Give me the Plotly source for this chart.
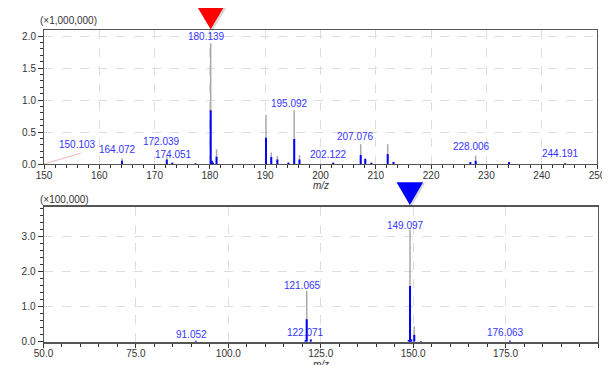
import plotly.graph_objects as go

# ---------------- data ----------------
# MS1 spectrum (intensity x 1,000,000)
ms1_mz = [164.1, 172.2, 173.2, 177.4, 180.14, 180.35, 180.55, 181.2, 190.14, 191.1,
          192.2, 194.2, 195.25, 196.2, 202.3, 207.27, 208.1, 209.2, 212.15, 213.2,
          227.1, 228.06, 234.1, 244.2]
ms1_total = [0.09, 0.12, 0.02, 0.01, 1.886, 0.05, 0.02, 0.23, 0.766, 0.18,
             0.125, 0.03, 0.84, 0.14, 0.02, 0.31, 0.09, 0.02, 0.31, 0.04,
             0.03, 0.13, 0.03, 0.01]
ms1_part = [0.05, 0.07, 0.02, 0.01, 0.84, 0.05, 0.02, 0.114, 0.41, 0.11,
            0.07, 0.02, 0.39, 0.07, 0.02, 0.14, 0.08, 0.02, 0.155, 0.03,
            0.03, 0.05, 0.03, 0.01]
ms1_labels = ["150.103", "164.072", "172.039", "174.051", "180.139", "195.092",
              "202.122", "207.076", "228.006", "244.191"]
ms1_label_x = [156.0, 164.072, 172.039, 174.051, 180.139, 195.092,
               202.122, 207.076, 228.006, 244.191]
ms1_label_y = [0.30, 0.23, 0.35, 0.15, 2.0, 0.95, 0.15, 0.43, 0.27, 0.16]
ms1_precursor = 180.139

# MS2 spectrum (intensity x 100,000)
ms2_mz = [91.2, 120.9, 121.2, 122.3, 148.8, 149.15, 149.5, 150.3, 152.1, 176.2]
ms2_total = [0.02, 0.05, 1.45, 0.06, 0.05, 3.19, 0.06, 0.44, 0.02, 0.03]
ms2_part = [0.03, 0.05, 0.64, 0.06, 0.05, 1.58, 0.06, 0.19, 0.02, 0.03]
ms2_labels = ["91.052", "121.065", "122.071", "149.097", "176.063"]
ms2_label_y = [0.21, 1.61, 0.27, 3.29, 0.27]
ms2_precursor = 149.097

ms1_xticks = [150, 160, 170, 180, 190, 200, 210, 220, 230, 240, 250]
ms2_xticks = [50.0, 75.0, 100.0, 125.0, 150.0, 175.0, 200.0]

# The page body has an 8px margin; work in screen pixels and convert.
OFF = 8
W, H = 610 - OFF, 365 - OFF
FONT = "Liberation Sans"
GRAY = "#a9a9a9"
BLUE = "#0000ff"
LBL = "#3434ff"


def px(xs):
    return (xs - OFF) / W


def py(ys):
    return 1 - (ys - OFF) / H


def sticks(xs, ys):
    sx, sy = [], []
    for x, y in zip(xs, ys):
        sx += [x, x, None]
        sy += [0, y, None]
    return sx, sy


fig = go.Figure()

for (mz, tot, part, xa, ya) in [(ms1_mz, ms1_total, ms1_part, "x", "y"),
                                (ms2_mz, ms2_total, ms2_part, "x2", "y2")]:
    gx, gy = sticks(mz, tot)
    fig.add_trace(go.Scatter(x=gx, y=gy, mode="lines", line=dict(color=GRAY, width=1.5),
                             xaxis=xa, yaxis=ya, hoverinfo="skip", showlegend=False))
    bx, by = sticks(mz, part)
    fig.add_trace(go.Scatter(x=bx, y=by, mode="lines", line=dict(color=BLUE, width=2),
                             xaxis=xa, yaxis=ya, hoverinfo="skip", showlegend=False))

# leader line for 150.103
fig.add_trace(go.Scatter(x=[150.0, 156.7], y=[0.0, 0.17], mode="lines",
                         line=dict(color="#f5b5b5", width=1), xaxis="x", yaxis="y",
                         hoverinfo="skip", showlegend=False))

annotations = []
for t, x, y in zip(ms1_labels, ms1_label_x, ms1_label_y):
    annotations.append(dict(x=x, y=y, xref="x", yref="y", text=t, showarrow=False,
                            xshift=-4 if t != "150.103" else 0,
                            xanchor="center", yanchor="middle",
                            font=dict(family=FONT, size=10, color=LBL)))
for t, y in zip(ms2_labels, ms2_label_y):
    annotations.append(dict(x=float(t), y=y, xref="x2", yref="y2", text=t, showarrow=False,
                            xshift=-4, xanchor="center", yanchor="middle",
                            font=dict(family=FONT, size=10, color=LBL)))

annotations += [
    dict(x=px(38), y=py(21), xref="paper", yref="paper", text="(×1,000,000)",
         showarrow=False, xanchor="left", yanchor="middle",
         font=dict(family=FONT, size=10, color="#333")),
    dict(x=px(38), y=py(199), xref="paper", yref="paper", text="(×100,000)",
         showarrow=False, xanchor="left", yanchor="middle",
         font=dict(family=FONT, size=10, color="#333")),
    dict(x=px(321), y=py(185), xref="paper", yref="paper", text="<i>m/z</i>",
         showarrow=False, xanchor="center", yanchor="middle",
         font=dict(family=FONT, size=10, color="#333")),
    dict(x=px(321), y=py(357), xref="paper", yref="paper", text="<i>m/z</i>",
         showarrow=False, xanchor="center", yanchor="top",
         font=dict(family=FONT, size=10, color="#333")),
]


def tri(xc, halfw, y0, y1, xref, yref, color, opacity=1.0):
    return dict(type="path", xref=xref, yref=yref,
                path=f"M {xc - halfw},{y1} L {xc + halfw},{y1} L {xc},{y0} Z",
                fillcolor=color, line=dict(width=0), opacity=opacity, layer="above")


# precursor markers (half-width in data units from pixel size)
hw1 = 13.5 / 5.53
hw2 = 13.3 / 3.697
shapes = [
    tri(ms1_precursor + 0.3, hw1 + 0.2, 0.99, 1.17, "x", "y domain", "#000", 0.15),
    tri(ms1_precursor, hw1, 1.005, 1.174, "x", "y domain", "#ff0000"),
    tri(ms2_precursor + 0.4, hw2 + 0.2, 1.0, 1.18, "x2", "y2 domain", "#000", 0.15),
    tri(ms2_precursor, hw2, 1.017, 1.186, "x2", "y2 domain", "#0000ff"),
]

axis_common = dict(showline=True, linecolor="#555", linewidth=1, mirror=True,
                   ticks="outside", tickcolor="#333", ticklen=5, tickwidth=1,
                   showgrid=True, gridcolor="#dedede", griddash="dash", gridwidth=1,
                   zeroline=False, tickfont=dict(family=FONT, size=10, color="#333"),
                   automargin=False)
xcommon = {**axis_common, "ticklen": 4, "ticklabelstandoff": -2}

fig.update_layout(
    width=W, height=H, margin=dict(l=0, r=0, t=0, b=0),
    paper_bgcolor="white", plot_bgcolor="white", showlegend=False,
    annotations=annotations, shapes=shapes,
    xaxis=dict(domain=[px(44), px(597)], range=[150, 250], anchor="y",
               tickvals=ms1_xticks, ticktext=[str(v) for v in ms1_xticks],
               minor=dict(dtick=2, ticklen=3, tickcolor="#333", ticks="outside", showgrid=False),
               **xcommon),
    yaxis=dict(domain=[py(164), py(30)], range=[0, 2.094], anchor="x",
               dtick=0.5, tickformat=".1f",
               minor=dict(dtick=0.1, ticklen=3, tickcolor="#333", ticks="outside", showgrid=False),
               **axis_common),
    xaxis2=dict(domain=[px(43.5), px(598)], range=[50, 200], anchor="y2",
                tickvals=ms2_xticks, ticktext=[f"{v:.1f}" for v in ms2_xticks],
                minor=dict(dtick=5, ticklen=3, tickcolor="#333", ticks="outside", showgrid=False),
                **{**xcommon, "linewidth": 2, "ticklabelstandoff": -3}),
    yaxis2=dict(domain=[py(341.7), py(207.3)], range=[0, 3.82], anchor="x2",
                dtick=1, tickformat=".1f",
                minor=dict(dtick=0.2, ticklen=3, tickcolor="#333", ticks="outside", showgrid=False),
                **axis_common),
)

fig.write_html("out.html")
